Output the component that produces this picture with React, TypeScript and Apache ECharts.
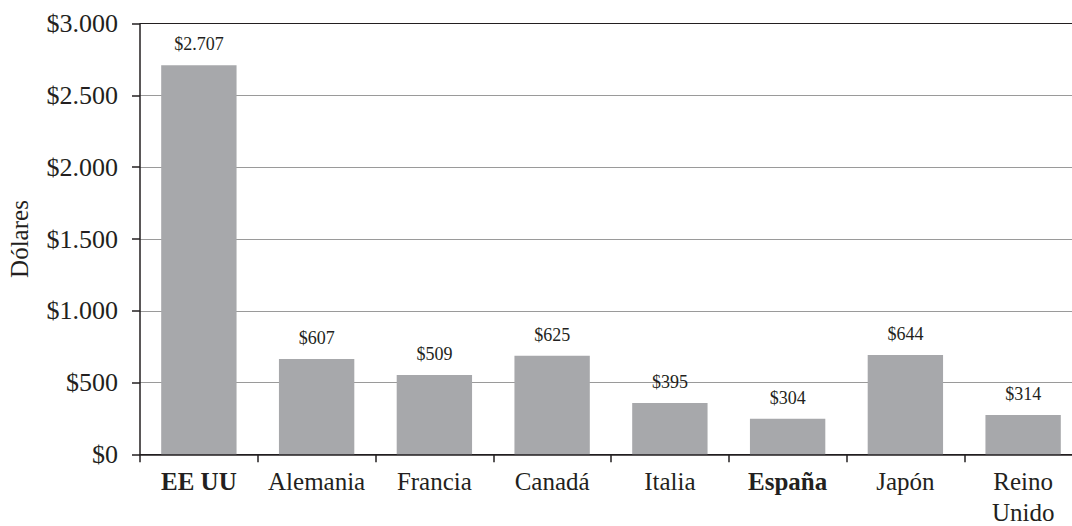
import React, { useEffect, useRef } from "react";
import * as echarts from "echarts";

const categories = ["EE UU", "Alemania", "Francia", "Canadá", "Italia", "España", "Japón", "Reino\nUnido"];
const boldCategories = ["EE UU", "España"];
// bar heights as drawn in the picture
const barValues = [2710, 664, 552, 686, 357, 247, 692, 274];
// value labels printed above the bars
const valueLabels = ["$2.707", "$607", "$509", "$625", "$395", "$304", "$644", "$314"];
const yTickLabels = ["$0", "$500", "$1.000", "$1.500", "$2.000", "$2.500", "$3.000"];
const yAxisName = "Dólares";

const FONT = "'Liberation Serif', 'Times New Roman', serif";
const TEXT = "#231f20";

export default function App() {
  const ref = useRef<HTMLDivElement>(null);
  useEffect(() => {
    document.body.style.margin = "0";
    const chart = echarts.init(ref.current!, null, { renderer: "svg" });
    chart.setOption({
      animation: false,
      backgroundColor: "#ffffff",
      grid: {
        left: 140,
        right: -10,
        top: 23.7,
        bottom: 71.7,
        containLabel: false,
        outerBoundsMode: "none",
      },
      xAxis: {
        type: "category",
        data: categories.map((c) =>
          boldCategories.includes(c) ? { value: c, textStyle: { fontWeight: "bold" } } : c
        ),
        axisLine: { show: true, lineStyle: { color: TEXT, width: 1.5 } },
        axisTick: { show: true, length: 8, lineStyle: { color: TEXT, width: 1.5 } },
        axisLabel: {
          fontFamily: FONT,
          fontSize: 25,
          color: TEXT,
          margin: 12,
          lineHeight: 31,
          interval: 0,
        },
      },
      yAxis: {
        type: "value",
        min: 0,
        max: 3000,
        interval: 500,
        name: yAxisName,
        nameLocation: "middle",
        nameGap: 108,
        nameTextStyle: { fontFamily: FONT, fontSize: 25, color: TEXT },
        axisLine: { show: true, lineStyle: { color: TEXT, width: 1.5 } },
        axisTick: { show: true, length: 8, lineStyle: { color: TEXT, width: 1.5 } },
        axisLabel: {
          fontFamily: FONT,
          fontSize: 26,
          color: TEXT,
          margin: 22,
          formatter: (v: number) => yTickLabels[Math.round(v / 500)] ?? "",
        },
        splitLine: {
          show: true,
          lineStyle: {
            color: [TEXT, "#9a9a9a", "#9a9a9a", "#9a9a9a", "#9a9a9a", "#9a9a9a", TEXT],
            width: 1,
          },
        },
      },
      series: [
        {
          type: "bar",
          data: barValues,
          barCategoryGap: "36%",
          itemStyle: { color: "#a7a8ab" },
          label: {
            show: true,
            position: "top",
            distance: 12,
            fontFamily: FONT,
            fontSize: 18,
            color: TEXT,
            formatter: (p: any) => valueLabels[p.dataIndex],
          },
        },
      ],
    });
    return () => chart.dispose();
  }, []);
  return <div ref={ref} style={{ width: 1072, height: 526 }} />;
}
